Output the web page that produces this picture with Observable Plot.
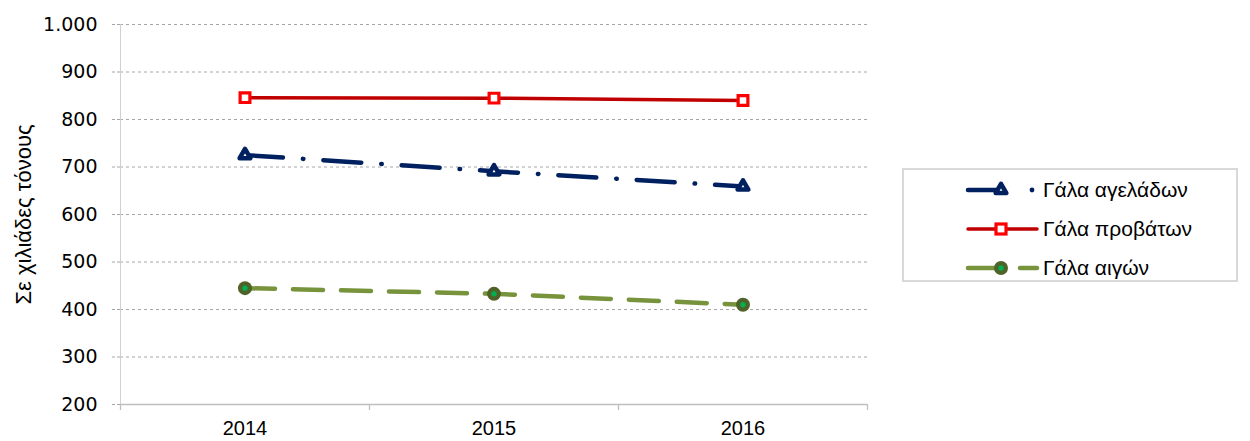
<!DOCTYPE html>
<html>
<head>
<meta charset="utf-8">
<script src="https://cdn.jsdelivr.net/npm/d3@7"></script>
<script src="https://cdn.jsdelivr.net/npm/@observablehq/plot@0.6"></script>
<style>
  html, body { margin: 0; padding: 0; background: #fff; }
  #wrap { position: relative; width: 1250px; height: 441px; }
  #legend {
    position: absolute; left: 902px; top: 168px; width: 336px; height: 114px;
    box-sizing: border-box; border: 2px solid #D9D9D9; background: #fff;
    font-family: "Liberation Sans", Arial, sans-serif; font-size: 21px; color: #000;
  }
  .item { position: absolute; left: 60px; height: 24px; display: flex; align-items: center; }
  .item svg { display: block; }
  .item span { margin-left: 3px; white-space: nowrap; }
</style>
</head>
<body>
<div id="wrap">
  <div id="chart"></div>
  <div id="legend"></div>
</div>
<script>
// ---- data ----
const years = [2014, 2015, 2016];
const seriesNames = ["Γάλα αγελάδων", "Γάλα προβάτων", "Γάλα αιγών"];
const cowMilk = [725, 691, 659];
const sheepMilk = [846, 845, 840];
const goatMilk = [445, 433, 410];
const yTicks = [200, 300, 400, 500, 600, 700, 800, 900, 1000];
const yLabel = "Σε χιλιάδες τόνους";

// ---- styles ----
const navy = "#002060", red = "#FF0000", darkRed = "#C00000",
      olive = "#77933C", darkOlive = "#4F6228", green = "#00B050";

const rows = (vals, name) => years.map((yr, i) => ({year: yr, value: vals[i], series: name}));
const cow = rows(cowMilk, seriesNames[0]);
const sheep = rows(sheepMilk, seriesNames[1]);
const goat = rows(goatMilk, seriesNames[2]);

const boundaries = [years[0] - 0.5, ...years.map(y => y + 0.5)];
const grLocale = d3.formatLocale({decimal: ",", thousands: ".", grouping: [3], currency: ["€", ""]});
const fmt = grLocale.format(",");
const gridTicks = yTicks.filter(t => t > yTicks[0]);

const chart = Plot.plot({
  width: 1250,
  height: 441,
  marginLeft: 120,
  marginRight: 383,
  marginTop: 24,
  marginBottom: 37,
  style: {fontFamily: "'Liberation Sans', Arial, sans-serif", fontSize: "20px", color: "#000", background: "#fff"},
  x: {type: "linear", domain: [boundaries[0], boundaries[boundaries.length - 1]]},
  y: {domain: [yTicks[0], yTicks[yTicks.length - 1]]},
  marks: [
    Plot.gridY(gridTicks, {stroke: "#A6A6A6", strokeOpacity: 1, strokeDasharray: "3,3"}),
    Plot.ruleX([boundaries[0]], {stroke: "#D0D0D0", strokeWidth: 1}),
    Plot.axisY(yTicks, {
      tickSize: 8, tickPadding: 15, tickFormat: fmt, stroke: "#A6A6A6", strokeDasharray: "3,2",
      label: null, fontSize: 19, fontFamily: "'DejaVu Sans', sans-serif"
    }),
    Plot.axisX(boundaries, {tickSize: 6, tickFormat: () => "", stroke: "#BFBFBF", strokeWidth: 1.3, label: null}),
    Plot.axisX(years, {
      tickSize: 0, tickPadding: 16, tickFormat: d => String(d), label: null,
      fontSize: 20, fontFamily: "'Liberation Sans', Arial, sans-serif"
    }),
    Plot.ruleY([yTicks[0]], {stroke: "#BFBFBF", strokeWidth: 1.5}),
    Plot.text([yLabel], {
      frameAnchor: "left", textAnchor: "middle", rotate: -90, dx: -97, fontSize: 22, fill: "#000"
    }),
    // sheep
    Plot.line(sheep, {x: "year", y: "value", stroke: darkRed, strokeWidth: 3.5}),
    Plot.dot(sheep, {x: "year", y: "value", symbol: "square", r: 5.5, stroke: red, strokeWidth: 3.2, fill: "#fff"}),
    // cow
    Plot.line(cow, {x: "year", y: "value", stroke: navy, strokeWidth: 4.5,
      strokeDasharray: "38,20,0.5,20", strokeLinecap: "round"}),
    Plot.dot(cow, {x: "year", y: "value", symbol: "triangle", r: 4, stroke: navy, strokeWidth: 4.5,
      fill: "#fff", strokeLinejoin: "round"}),
    // goat
    Plot.line(goat, {x: "year", y: "value", stroke: olive, strokeWidth: 4.5,
      strokeDasharray: "30,18", strokeLinecap: "round"}),
    Plot.dot(goat, {x: "year", y: "value", r: 7, fill: darkOlive}),
    Plot.dot(goat, {x: "year", y: "value", r: 2.7, fill: green})
  ]
});
document.getElementById("chart").appendChild(chart);

// ---- legend ----
const legend = d3.select("#legend");
const legendDefs = [
  {name: seriesNames[0], kind: "cow"},
  {name: seriesNames[1], kind: "sheep"},
  {name: seriesNames[2], kind: "goat"}
];
legendDefs.forEach((d, i) => {
  const item = legend.append("div").attr("class", "item").style("top", (8 + i * 39) + "px");
  const svg = item.append("svg").attr("width", 76).attr("height", 24);
  const cy = 12, mx = 37;
  if (d.kind === "cow") {
    svg.append("line").attr("x1", 4).attr("x2", mx).attr("y1", cy).attr("y2", cy)
      .attr("stroke", navy).attr("stroke-width", 4.5).attr("stroke-linecap", "round");
    svg.append("path").attr("d", d3.symbol(d3.symbolTriangle, 50)()).attr("transform", `translate(${mx},${cy})`)
      .attr("fill", "#fff").attr("stroke", navy).attr("stroke-width", 4.5).attr("stroke-linejoin", "round");
    svg.append("circle").attr("cx", 68).attr("cy", cy).attr("r", 2.4).attr("fill", navy);
  } else if (d.kind === "sheep") {
    svg.append("line").attr("x1", 4).attr("x2", 73).attr("y1", cy).attr("y2", cy)
      .attr("stroke", darkRed).attr("stroke-width", 3.5).attr("stroke-linecap", "round");
    svg.append("rect").attr("x", mx - 5).attr("y", cy - 5).attr("width", 10).attr("height", 10)
      .attr("fill", "#fff").attr("stroke", red).attr("stroke-width", 3.2);
  } else {
    svg.append("line").attr("x1", 4).attr("x2", mx).attr("y1", cy).attr("y2", cy)
      .attr("stroke", olive).attr("stroke-width", 4.5).attr("stroke-linecap", "round");
    svg.append("line").attr("x1", 56).attr("x2", 73).attr("y1", cy).attr("y2", cy)
      .attr("stroke", olive).attr("stroke-width", 4.5).attr("stroke-linecap", "round");
    svg.append("circle").attr("cx", mx).attr("cy", cy).attr("r", 7).attr("fill", darkOlive);
    svg.append("circle").attr("cx", mx).attr("cy", cy).attr("r", 2.7).attr("fill", green);
  }
  item.append("span").text(d.name);
});
</script>
</body>
</html>
